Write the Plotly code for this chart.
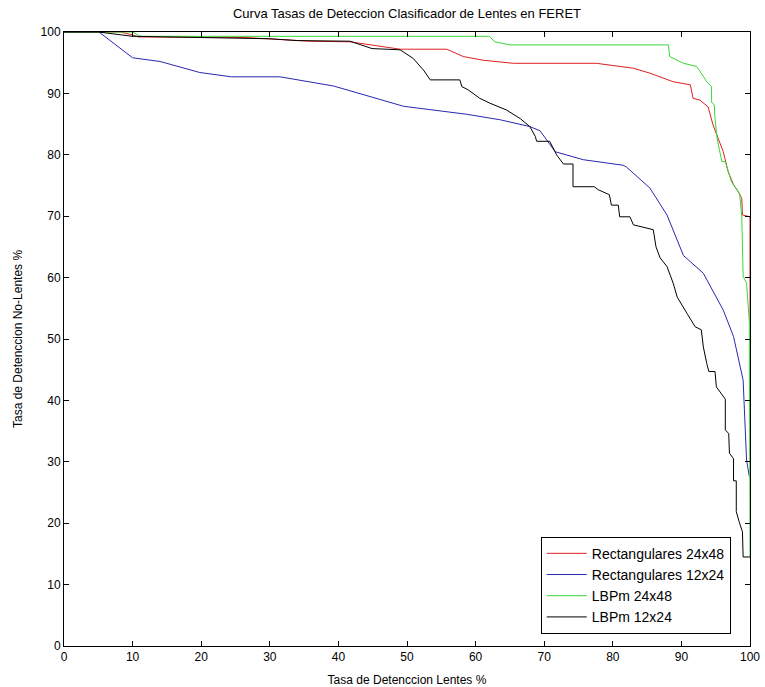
import plotly.graph_objects as go

# Rectangulares 24x48
red_x = [0, 8.2, 10.1, 10.8, 26.4, 30, 33.4, 35.9, 41.7, 44.9, 49, 55.8, 58.2, 61.1, 65.5, 77.6, 83, 85.4, 88.8, 91.3, 91.7, 92.7, 93.9, 94.6, 95.4, 96.1, 96.8, 97.6, 98.3, 98.8, 98.9, 100, 100]
red_y = [100, 100, 99.5, 99.2, 99.1, 98.9, 98.7, 98.5, 98.4, 97.9, 97.2, 97.2, 96.0, 95.4, 94.9, 94.9, 94.1, 93.3, 91.9, 91.4, 89.2, 88.9, 87.8, 84.9, 82.4, 80.5, 77.3, 75.1, 74.0, 72.9, 70.2, 69.9, 52.8]

# Rectangulares 12x24
blue_x = [0, 5.1, 10.0, 14, 19.8, 24.4, 31.5, 35.9, 39.3, 49.5, 58.7, 63.6, 67.9, 69.4, 71.6, 75.7, 81.5, 82.0, 85.4, 87.9, 88.8, 90.3, 93.2, 96.1, 97.6, 99.0, 99.5, 99.9]
blue_y = [100, 100, 95.8, 95.2, 93.4, 92.7, 92.7, 91.9, 91.2, 87.9, 86.6, 85.7, 84.6, 83.9, 80.5, 79.2, 78.3, 78.0, 74.6, 70.2, 67.8, 63.6, 60.7, 54.7, 50.4, 43.3, 30.3, 27.6]

# LBPm 24x48
green_x = [0, 10, 11.1, 62, 62.8, 65, 88.1, 88.3, 90.3, 92.2, 92.7, 93.7, 94.4, 94.4, 94.8, 94.9, 95.2, 95.6, 95.9, 96.4, 96.8, 97.3, 98.0, 98.5, 98.8, 99.0, 99.5, 99.9, 100]
green_y = [100, 100, 99.3, 99.3, 98.4, 97.9, 97.9, 96.0, 94.9, 94.4, 93.6, 91.9, 91.1, 88.6, 88.1, 85.9, 82.7, 80.5, 78.9, 78.9, 77.3, 75.6, 74.5, 73.5, 69.9, 60.2, 59.1, 52.8, 14.5]

# LBPm 12x24
black_x = [0, 5, 10, 30, 34, 41.7, 44.9, 49, 50.9, 52.4, 53.4, 57.7, 58, 58.9, 60.6, 62.1, 64.5, 66.5, 67.9, 68.7, 68.9, 70.8, 71.8, 72.8, 74.2, 74.2, 77.3, 77.9, 79.5, 79.8, 80.8, 81.0, 82.5, 83.0, 85.9, 86.3, 86.9, 87.9, 88.8, 89.4, 90.8, 92.0, 92.9, 93.2, 93.7, 94.0, 94.9, 95.1, 96.4, 96.4, 96.9, 97.0, 97.6, 97.6, 98.0, 98.0, 98.4, 98.9, 99.0, 100]
black_y = [100, 100, 99.3, 98.9, 98.6, 98.5, 97.3, 97.1, 95.7, 93.8, 92.2, 92.2, 91.1, 90.6, 89.2, 88.4, 87.3, 85.9, 84.6, 83.0, 82.2, 82.2, 80.0, 78.5, 78.5, 74.8, 74.8, 74.3, 73.5, 71.8, 71.8, 69.9, 69.9, 68.6, 67.8, 65.0, 63.2, 61.8, 59.1, 56.8, 54.2, 52.0, 51.5, 48.7, 46.0, 44.7, 44.7, 42.2, 40.2, 35.2, 34.6, 31.4, 30.5, 26.9, 26.9, 21.9, 20.3, 18.6, 14.5, 14.5]

series_names = ["Rectangulares 24x48", "Rectangulares 12x24", "LBPm 24x48", "LBPm 12x24"]
series_colors = ["#e02020", "#2828b0", "#38d838", "#000000"]
xs = [red_x, blue_x, green_x, black_x]
ys = [red_y, blue_y, green_y, black_y]

tick_vals = list(range(0, 101, 10))

fig = go.Figure()
for name, col, x, y in zip(series_names, series_colors, xs, ys):
    fig.add_trace(go.Scatter(x=x, y=y, mode="lines", name=name,
                             line=dict(color=col, width=1)))

FONT = "Liberation Sans, Arial, sans-serif"
axis_common = dict(range=[0, 100], tickvals=tick_vals, ticks="inside", ticklen=5,
                   tickcolor="black", showline=True, linecolor="black", linewidth=1,
                   mirror="ticks", showgrid=False, zeroline=False, automargin=False,
                   tickfont=dict(family=FONT, size=12, color="black"))

fig.update_layout(
    width=765, height=687,
    margin=dict(l=64, r=15, t=32, b=41, autoexpand=False),
    paper_bgcolor="white", plot_bgcolor="white",
    font=dict(family=FONT, size=12, color="black"),
    title=dict(text="Curva Tasas de Deteccion Clasificador de Lentes en FERET",
               x=0.532, xanchor="center", y=1 - 13 / 687, yanchor="middle",
               font=dict(family=FONT, size=13, color="black")),
    xaxis=dict(title=dict(text="Tasa de Detenccion Lentes %",
                          font=dict(family=FONT, size=12)), **axis_common),
    yaxis=dict(title=dict(text="Tasa de Detenccion No-Lentes %",
                          font=dict(family=FONT, size=12)), **axis_common),
    legend=dict(x=0.695, y=0.02, xanchor="left", yanchor="bottom",
                bgcolor="white", bordercolor="black", borderwidth=1,
                font=dict(family=FONT, size=14, color="black"),
                tracegroupgap=0, itemwidth=40),
    showlegend=True,
)

fig.write_html("out.html", config={"displayModeBar": False},
               post_script="document.body.style.margin='0';document.body.style.padding='0';")
